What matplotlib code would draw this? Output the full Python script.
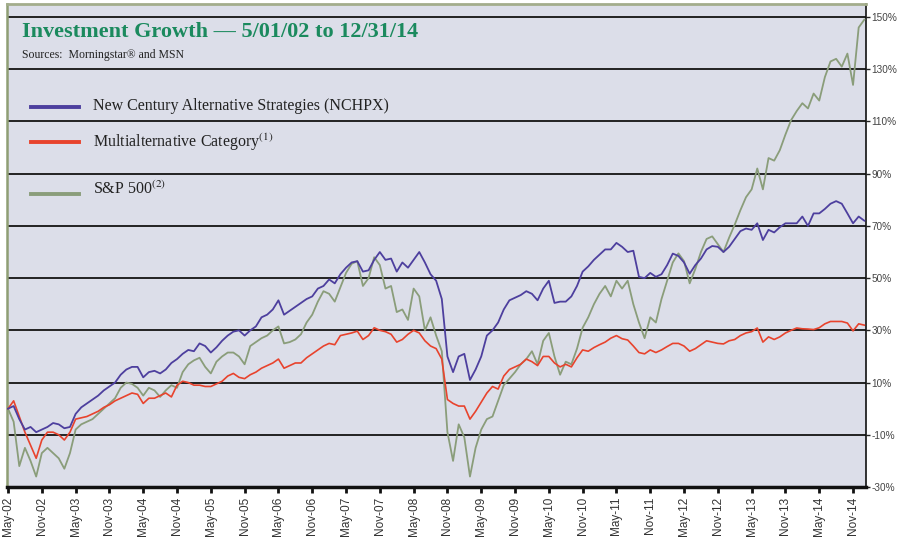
import matplotlib
matplotlib.use("Agg")
import matplotlib.pyplot as plt
from matplotlib.lines import Line2D

# ---- data (cumulative % growth, monthly from May-02 to Dec-14) ----
blue = [
    0, 1, -4, -8, -7, -9, -8, -7, -5.5, -6,
    -7.5, -7, -2, 0.5, 2, 3.5, 5, 7, 8.5, 10,
    13, 15, 16, 16, 12, 14, 14.5, 13.5, 15, 17.5,
    19, 21, 22.5, 22, 25, 24, 21.5, 23.5, 26, 28,
    29.5, 30, 28, 30, 31.5, 35, 36, 38, 41.5, 36,
    37.5, 39, 40.5, 42, 43, 46, 47, 49.5, 48, 51.5,
    54, 56, 56.5, 52.5, 53, 57, 60, 57, 57.5, 52.5,
    56, 54, 57, 60, 56, 51.5, 49, 42, 20, 14,
    20, 21, 11, 15, 20, 28, 30, 33, 38, 41.5,
    42.5, 43.5, 45, 44, 41.5, 46, 49, 40.5, 41, 41,
    43, 47, 52.5, 54.5, 57, 59, 61, 61, 63.5, 62,
    60, 60.5, 50.5, 50, 52, 50.5, 51.5, 55, 59.4, 58.5,
    56, 51.7, 55, 57.5, 61, 62.3, 62, 60, 62, 65,
    68, 69, 68.5, 71, 64.6, 68.5, 67.5, 69.5, 71, 71,
    71, 73.6, 70, 74.8, 74.8, 76.5, 78.5, 79.5, 78.5, 74.8,
    71, 73.6, 72]

red = [
    0, 3, -3, -9, -14, -19, -12, -9, -9, -10,
    -12, -9, -4, -3.5, -3, -2, -1, 0.5, 1.5, 3,
    4, 5, 6, 5.5, 2, 4, 4, 5, 6, 4.5,
    9, 10.5, 10, 9, 9, 8.5, 8.5, 9.5, 10.5, 12.5,
    13.5, 12, 11.5, 13, 14, 15.5, 16.5, 17.5, 19, 15.5,
    16.5, 17.5, 17.5, 19.5, 21, 22.5, 24, 25, 24.5, 28,
    28.5, 29, 29.7, 26.5, 28, 31, 30, 29.5, 28.5, 25.5,
    26.5, 28.5, 30, 29, 26, 24, 23, 19, 3.5, 2,
    1, 1, -4, -1, 2.5, 6, 8.5, 7.5, 12.5, 15,
    16, 17, 19, 18, 16.5, 20, 20, 17.5, 16, 17,
    16, 19.5, 22.5, 22, 23.4, 24.5, 25.5, 27, 28, 26.8,
    26.3, 24, 21.5, 21, 22.5, 21.5, 22.5, 23.8, 25, 25,
    24, 22, 23, 24.5, 26, 25.5, 25, 24.8, 26, 26.5,
    28, 29, 29.5, 30.9, 25.5, 27.5, 26.5, 27.5, 29, 30,
    30.9, 30.6, 30.5, 30.3, 31, 32.5, 33.4, 33.4, 33.4, 32.8,
    29.8, 32.5, 32]

green = [
    0, -5, -22, -15, -20, -26, -17, -15, -17, -19,
    -23, -17, -8, -6, -5, -4, -2, 0, 2, 4,
    8, 10, 9.5, 8, 5, 8, 7, 4.5, 7, 9,
    8, 14, 17, 18.5, 19.5, 16, 13.5, 18, 20, 21.5,
    21.5, 20, 17, 24, 25.5, 27, 28, 30, 31.5, 25,
    25.5, 26.5, 28.5, 33, 36, 41, 45, 44, 41, 46.5,
    52, 55.5, 56.5, 47, 50, 58, 55, 46, 47, 37,
    38, 34, 46, 43, 30, 35, 28, 22, -9, -20,
    -6, -11, -26, -15, -8, -4, -3, 3, 9, 11.5,
    14, 17, 19, 22, 17, 26, 29, 20, 13, 18,
    17, 23, 31, 35, 40, 44, 47, 43, 49, 46,
    49, 40, 33, 27, 35, 33, 42, 49, 56, 59.5,
    56.5, 48, 53.5, 60, 65, 66, 63, 60, 65.5, 70.5,
    76, 81, 84, 92, 84, 96, 95, 99, 105, 110.5,
    114, 117, 115, 120.7, 118, 127, 133, 134, 131, 136,
    124, 146, 149]

months = list(range(len(blue)))  # months since May-2002

tick_months = list(range(0, 151, 6))
tick_labels = [f"{m}-{y:02d}" for y in range(2, 15) for m in ("May", "Nov")]

y_ticks = list(range(-30, 151, 20))
y_labels = [f"{v}%" for v in y_ticks]

series_names = ["New Century Alternative Strategies (NCHPX)",
                "Multialternative Category$^{(1)}$",
                "S&P 500$^{(2)}$"]

# ---- style ----
plt.rcParams["mathtext.fontset"] = "stix"
W, H = 898, 550
fig = plt.figure(figsize=(W / 100, H / 100), dpi=100)
fig.patch.set_facecolor("white")

L, R, T, B = 7, 866, 4, 487
ax = fig.add_axes([L / W, 1 - B / H, (R - L) / W, (B - T) / H])
ax.set_facecolor("#dcdee9")

c_blue, c_red, c_green = "#4d3f9e", "#e8432d", "#8a9d7a"

for v in y_ticks[1:]:
    ax.axhline(v, color="#222222", lw=1.4, zorder=1)

ax.plot(months, green, color=c_green, lw=1.3, zorder=3)
ax.plot(months, red, color=c_red, lw=1.2, zorder=4)
ax.plot(months, blue, color=c_blue, lw=1.3, zorder=5)

ax.set_xlim(-0.18, 152.3)
ax.set_ylim(-30, 155)

ax.yaxis.tick_right()
ax.set_yticks(y_ticks)
ax.set_yticklabels(y_labels, fontsize=7.2, color="#444444", family="Liberation Sans")
ax.tick_params(axis="y", length=3, width=1, color="#222222", pad=1)

ax.set_xticks(tick_months)
ax.set_xticklabels(tick_labels, rotation=90, fontsize=8.5, color="#333333",
                   family="Liberation Sans")
ax.tick_params(axis="x", length=4, width=2, color="#111111", pad=3)

ax.spines["bottom"].set_color("#111111")
ax.spines["bottom"].set_linewidth(2.5)
ax.spines["right"].set_color("#111111")
ax.spines["right"].set_linewidth(1.2)
ax.spines["left"].set_color("#8f9e74")
ax.spines["left"].set_linewidth(1.8)
ax.spines["top"].set_color("#a3ad8c")
ax.spines["top"].set_linewidth(2)

# ---- title & sources ----
fig.text(22 / W, 1 - 32 / H, "Investment Growth \u2014 5/01/02 to 12/31/14",
         fontsize=16, fontweight="bold", color="#1b8a5e",
         family="Liberation Serif", va="center", ha="left")
fig.text(22 / W, 1 - 55 / H, "Sources:  Morningstar\u00ae and MSN",
         fontsize=8.5, color="#222222", family="Liberation Serif",
         va="center", ha="left")

# ---- legend (manual) ----
leg_y = [107, 142, 194]
leg_text_y = [106, 142, 189]
for name, col, ly, ty in zip(series_names, [c_blue, c_red, c_green], leg_y, leg_text_y):
    fig.add_artist(Line2D([31 / W, 79 / W], [1 - ly / H, 1 - ly / H],
                          color=col, lw=2.8, transform=fig.transFigure))
    fig.text(93 / W, 1 - ty / H, name, fontsize=11.5, color="#222222",
             family="Liberation Serif", va="center", ha="left")

fig.savefig("out.png", dpi=100)
